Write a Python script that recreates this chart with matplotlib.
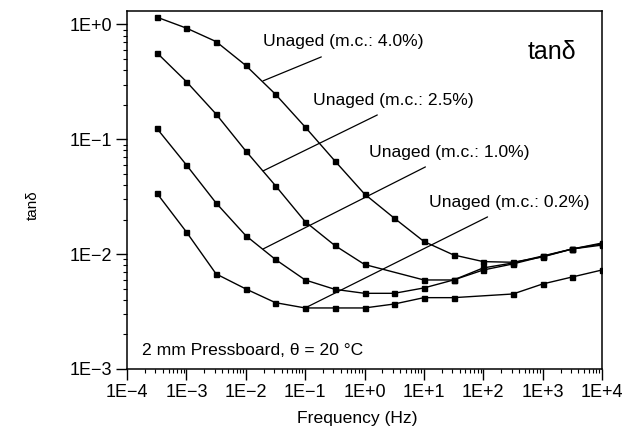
import numpy as np
import matplotlib.pyplot as plt
from matplotlib.ticker import LogLocator, FuncFormatter, NullFormatter

plt.rcParams['font.family'] = ['Liberation Sans', 'DejaVu Sans']

# measurement frequencies (Hz), half-decade steps
freq = [3.16e-4, 1e-3, 3.16e-3, 1e-2, 3.16e-2, 1e-1, 3.16e-1, 1e0,
        3.16e0, 1e1, 3.16e1, 1e2, 3.16e2, 1e3, 3.16e3, 1e4]

tan_40 = [1.16, 0.93, 0.71, 0.44, 0.247, 0.128, 0.0649, 0.0334,
          0.0206, 0.0129, 0.00984, 0.00861, 0.0085, 0.00946, 0.0111, 0.0125]

freq_25 = [3.16e-4, 1e-3, 3.16e-3, 1e-2, 3.16e-2, 1e-1, 3.16e-1, 1e0,
           1e1, 3.16e1, 1e2, 3.16e2, 1e3, 3.16e3, 1e4]
tan_25 = [0.569, 0.318, 0.166, 0.0792, 0.0395, 0.0192, 0.0119, 0.00813,
          0.00596, 0.00596, 0.00759, 0.00838, 0.00964, 0.0111, 0.0123]

tan_10 = [0.125, 0.0598, 0.0279, 0.0145, 0.00899, 0.00596, 0.00494, 0.00456,
          0.00456, 0.00508, 0.00596, 0.00728, 0.00822, 0.00955, 0.0111, 0.012]

freq_02 = [3.16e-4, 1e-3, 3.16e-3, 1e-2, 3.16e-2, 1e-1, 3.16e-1, 1e0,
           3.16e0, 1e1, 3.16e1, 3.16e2, 1e3, 3.16e3, 1e4]
tan_02 = [0.0341, 0.0156, 0.00673, 0.00498, 0.00378, 0.0034, 0.0034, 0.0034,
          0.00368, 0.00418, 0.00418, 0.0045, 0.0055, 0.00633, 0.00728]

labels = ["Unaged (m.c.: 4.0%)", "Unaged (m.c.: 2.5%)",
          "Unaged (m.c.: 1.0%)", "Unaged (m.c.: 0.2%)"]
# leader line: point on curve -> end near label
lead_from = [(0.0196, 0.323), (0.0196, 0.0531), (0.0196, 0.0111), (0.1, 0.0034)]
lead_to = [(0.187, 0.522), (1.64, 0.163), (10.6, 0.0575), (118, 0.0211)]
label_pos = [(0.0196, 0.705), (0.137, 0.22), (1.21, 0.0762), (12.4, 0.0279)]

fig = plt.figure(figsize=(6.32, 4.36), dpi=100)
ax = fig.add_axes([0.201, 0.1537, 0.7516, 0.821])

for f, t in [(freq, tan_40), (freq_25, tan_25), (freq, tan_10), (freq_02, tan_02)]:
    ax.plot(f, t, color='black', lw=1.0, marker='s', ms=3.6, mfc='black', mec='black')

for lab, p0, p1, pt in zip(labels, lead_from, lead_to, label_pos):
    ax.annotate('', xy=p0, xytext=p1,
                arrowprops=dict(arrowstyle='-', color='black', lw=0.9, shrinkA=0, shrinkB=0))
    ax.text(pt[0], pt[1], lab, fontsize=12.6, ha='left', va='center')

ax.text(0.843, 0.885, 'tan\u03b4', transform=ax.transAxes, fontsize=18, ha='left', va='center')
ax.text(0.032, 0.053, '2 mm Pressboard, \u03b8 = 20 \u00b0C', transform=ax.transAxes,
        fontsize=12.6, ha='left', va='center')

ax.set_xscale('log')
ax.set_yscale('log')
ax.set_xlim(1e-4, 1e4)
ax.set_ylim(1e-3, 1.31)

def efmt(v, pos):
    e = int(round(np.log10(v)))
    return '1E+%d' % e if e >= 0 else '1E\u2212%d' % (-e)

ax.xaxis.set_major_locator(LogLocator(base=10, numticks=20))
ax.yaxis.set_major_locator(LogLocator(base=10, numticks=20))
ax.xaxis.set_minor_locator(LogLocator(base=10, subs=np.arange(2, 10), numticks=20))
ax.yaxis.set_minor_locator(LogLocator(base=10, subs=np.arange(2, 10), numticks=20))
ax.xaxis.set_major_formatter(FuncFormatter(efmt))
ax.yaxis.set_major_formatter(FuncFormatter(efmt))
ax.xaxis.set_minor_formatter(NullFormatter())
ax.yaxis.set_minor_formatter(NullFormatter())
ax.tick_params(which='major', direction='out', length=8, width=1, labelsize=13, pad=3)
ax.tick_params(which='minor', direction='out', length=3, width=0.8)
for s in ax.spines.values():
    s.set_linewidth(1.1)

ax.set_xlabel('Frequency (Hz)', fontsize=12.6)
ax.set_ylabel('tan\u03b4', fontsize=11)
ax.xaxis.set_label_coords(0.485, -0.118)
ax.yaxis.set_label_coords(-0.183, 0.458)

fig.savefig('out.png', dpi=100)
